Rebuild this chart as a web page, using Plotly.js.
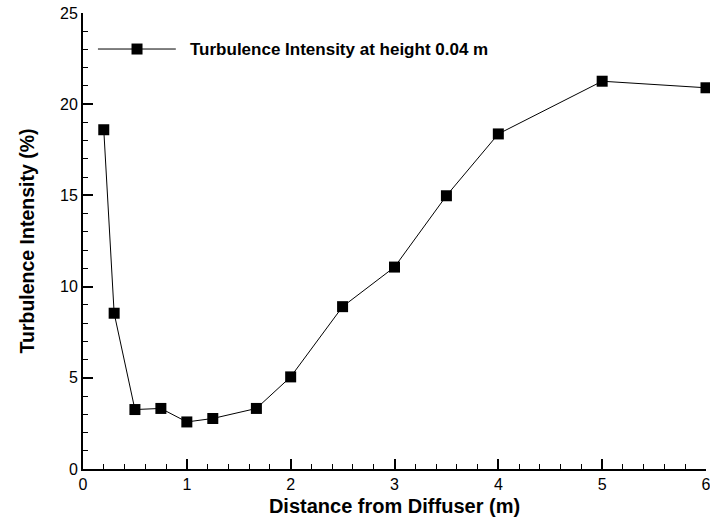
<!DOCTYPE html>
<html>
<head>
<meta charset="utf-8">
<script src="https://cdn.plot.ly/plotly-3.0.1.min.js"></script>
<style>html,body{margin:0;padding:0;background:#fff;}#chart{width:710px;height:520px;}</style>
</head>
<body>
<div id="chart"></div>
<script>
const distance = [0.2, 0.3, 0.5, 0.75, 1.0, 1.25, 1.67, 2.0, 2.5, 3.0, 3.5, 4.0, 5.0, 6.0];
const intensity = [18.6, 8.54, 3.26, 3.32, 2.58, 2.77, 3.32, 5.05, 8.9, 11.07, 14.98, 18.37, 21.26, 20.9];
const seriesName = 'Turbulence Intensity at height 0.04 m';
const xTicks = [0, 1, 2, 3, 4, 5, 6];
const yTicks = [0, 5, 10, 15, 20, 25];

const FONT = 'Arial, "Liberation Sans", Helvetica, sans-serif';

const trace = {
  x: distance, y: intensity, type: 'scatter', mode: 'lines+markers',
  name: seriesName, showlegend: false, cliponaxis: false,
  line: {color: '#000', width: 1},
  marker: {symbol: 'square', size: 11, color: '#000'}
};

// legend drawn in paper coordinates
const lgY = 0.921, lgX0 = 0.024, lgX1 = 0.149, lgM = 0.0867, lgT = 0.1717;

const layout = {
  width: 710, height: 520,
  margin: {l: 83, r: 4, t: 13, b: 51},
  paper_bgcolor: '#fff', plot_bgcolor: '#fff',
  font: {family: FONT, color: '#000', size: 16},
  xaxis: {
    range: [0, 6], tickvals: xTicks, ticktext: xTicks.map(String),
    ticks: 'inside', ticklen: 10, tickwidth: 2, tickcolor: '#000',
    showline: true, linewidth: 2, linecolor: '#000', showgrid: false, zeroline: false,
    ticklabeloverflow: 'allow',
    tickfont: {family: FONT, size: 16, color: '#000'},
    minor: {dtick: 0.2, ticks: 'inside', ticklen: 5, tickwidth: 1, tickcolor: '#000', showgrid: false},
    title: {text: '<b>Distance from Diffuser (m)</b>', font: {family: FONT, size: 20, color: '#000'}, standoff: 7}
  },
  yaxis: {
    range: [0, 25], tickvals: yTicks, ticktext: yTicks.map(String),
    ticks: 'inside', ticklen: 10, tickwidth: 2, tickcolor: '#000',
    showline: true, linewidth: 2, linecolor: '#000', showgrid: false, zeroline: false,
    ticklabeloverflow: 'allow',
    tickfont: {family: FONT, size: 16, color: '#000'},
    minor: {dtick: 1, ticks: 'inside', ticklen: 5, tickwidth: 1, tickcolor: '#000', showgrid: false},
    title: {text: '<b>Turbulence Intensity (%)</b>', font: {family: FONT, size: 19.5, color: '#000'}, standoff: 20}
  },
  shapes: [
    {type: 'line', xref: 'paper', yref: 'paper', x0: lgX0, x1: lgX1, y0: lgY, y1: lgY,
     line: {color: '#000', width: 1}},
    {type: 'rect', xref: 'paper', yref: 'paper', xsizemode: 'pixel', ysizemode: 'pixel',
     xanchor: lgM, yanchor: lgY, x0: -5.5, x1: 5.5, y0: -5.5, y1: 5.5,
     fillcolor: '#000', line: {width: 0}}
  ],
  annotations: [
    {xref: 'paper', yref: 'paper', x: lgT, y: lgY, xanchor: 'left', yanchor: 'middle',
     xshift: -2, text: '<b>' + seriesName + '</b>', showarrow: false,
     font: {family: FONT, size: 17, color: '#000'}}
  ]
};

Plotly.newPlot('chart', [trace], layout, {displayModeBar: false, staticPlot: true});
</script>
</body>
</html>
